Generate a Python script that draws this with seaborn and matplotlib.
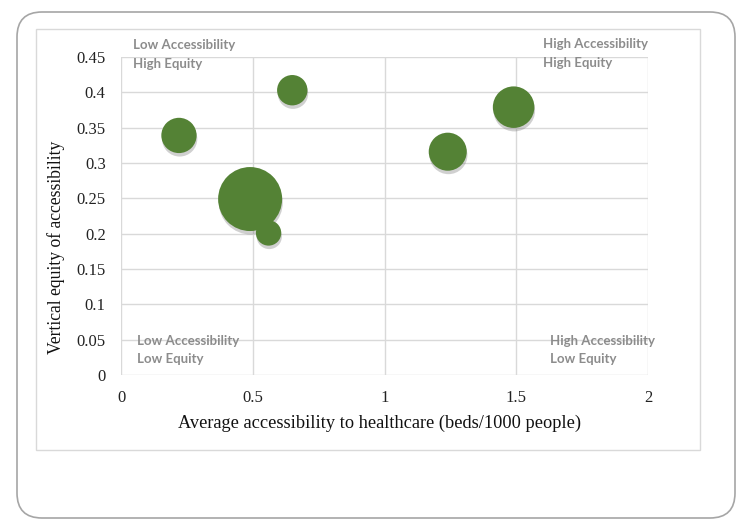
import matplotlib
matplotlib.use("Agg")
import matplotlib.pyplot as plt
import matplotlib.patheffects as pe
from matplotlib.patches import FancyBboxPatch, Rectangle
import pandas as pd
import seaborn as sns

# bubble data
accessibility = [0.65, 0.22, 0.49, 0.56, 1.49, 1.24]
equity = [0.403, 0.339, 0.249, 0.201, 0.379, 0.316]
bubble_size = [2.3, 3.1, 10.2, 1.6, 4.3, 3.6]

x_ticks = [0, 0.5, 1, 1.5, 2]
x_tick_labels = ["0", "0.5", "1", "1.5", "2"]
y_ticks = [0, 0.05, 0.1, 0.15, 0.2, 0.25, 0.3, 0.35, 0.4, 0.45]
y_tick_labels = ["0", "0.05", "0.1", "0.15", "0.2", "0.25", "0.3", "0.35", "0.4", "0.45"]

df = pd.DataFrame({"x": accessibility, "y": equity, "size": bubble_size})

sns.set_theme(style="white")
plt.rcParams['font.family'] = ['Liberation Serif', 'DejaVu Serif']

fig = plt.figure(figsize=(7.44, 5.25), dpi=100)

# outer rounded frame and inner chart box
frame = FancyBboxPatch((0.17, 0.07), 7.18, 5.06, boxstyle="round,pad=0,rounding_size=0.25",
                       transform=fig.dpi_scale_trans, facecolor="none", edgecolor="#a6a6a6",
                       lw=1.2, zorder=-2)
fig.patches.append(frame)
inner = Rectangle((0.36, 0.75), 6.64, 4.21, transform=fig.dpi_scale_trans,
                  facecolor="none", edgecolor="#d9d9d9", lw=1.0, zorder=-2)
fig.patches.append(inner)

ax = fig.add_axes([121 / 744, 150 / 525, 527 / 744, 318 / 525])
ax.set_facecolor("none")

sns.scatterplot(data=df, x="x", y="y", size="size", sizes=(0, 2123), size_norm=(0, 10.2),
                color="#548235", edgecolor="none", alpha=1, legend=False, ax=ax, zorder=3)
for coll in ax.collections:
    coll.set_path_effects([pe.SimplePatchShadow(offset=(0.5, -2.5), shadow_rgbFace="#666666", alpha=0.3),
                           pe.Normal()])
    coll.set_clip_on(False)

ax.set_xlim(0, 2)
ax.set_ylim(0, 0.45)
ax.set_xticks(x_ticks)
ax.set_xticklabels(x_tick_labels)
ax.set_yticks(y_ticks)
ax.set_yticklabels(y_tick_labels)
ax.tick_params(axis="both", length=0, labelsize=12, colors="#222222")
ax.tick_params(axis="y", pad=11)
ax.tick_params(axis="x", pad=11)
ax.grid(True, color="#d9d9d9", lw=1.0)
ax.set_axisbelow(True)
for sp in ax.spines.values():
    sp.set_visible(False)

ax.set_xlabel("Average accessibility to healthcare (beds/1000 people)", fontsize=13.2, color="#111111")
ax.xaxis.set_label_coords(0.49, -0.151)
ax.xaxis.label.set_va("center")
ax.set_ylabel("Vertical equity of accessibility", fontsize=12.7, color="#111111")
ax.yaxis.set_label_coords(-0.123, 0.40)
ax.yaxis.label.set_va("center")

quad_style = dict(fontsize=9.5, color="#8c8c8c", fontweight="bold", family=["Lato", "DejaVu Sans"],
                  va="center", ha="left", linespacing=1.65, clip_on=False)
ax.text(0.045, 0.4535, "Low Accessibility\nHigh Equity", **quad_style)
ax.text(1.601, 0.455, "High Accessibility\nHigh Equity", **quad_style)
ax.text(0.061, 0.0354, "Low Accessibility\nLow Equity", **quad_style)
ax.text(1.628, 0.0354, "High Accessibility\nLow Equity", **quad_style)

fig.savefig("out.png", dpi=100)
